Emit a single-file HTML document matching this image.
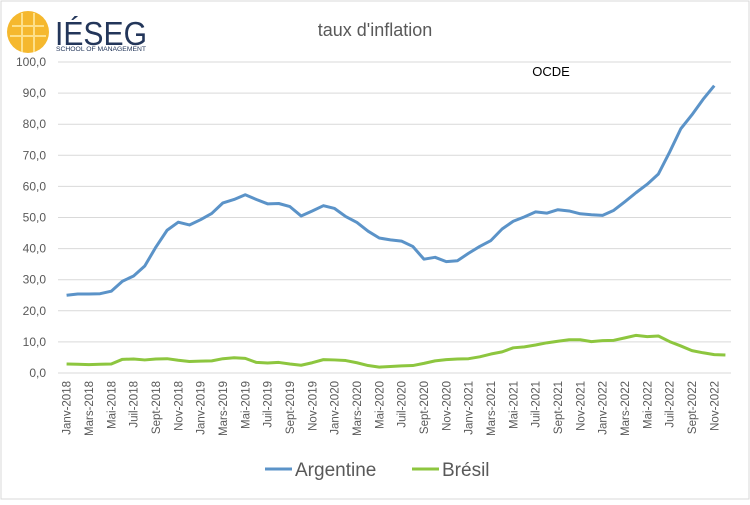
<!DOCTYPE html>
<html><head><meta charset="utf-8"><style>
body{margin:0;width:750px;height:500px;background:#fff;overflow:hidden;font-family:"Liberation Sans",sans-serif}
</style></head><body>
<svg id="chart" width="750" height="500" xmlns="http://www.w3.org/2000/svg">
<rect x="1" y="1" width="748" height="498" fill="#fff" stroke="#d9d9d9"/>
<g>
<circle cx="28" cy="32" r="21" fill="#f5b82e"/>
<path d="M12 26 H44 M10 36 H46 M22 13 V52 M34 13 V52" stroke="#fde08a" stroke-width="2" fill="none"/>
<text x="55" y="45" font-size="33" fill="#23365a" font-family="Liberation Sans,sans-serif" textLength="92" lengthAdjust="spacingAndGlyphs">IÉSEG</text>
<text x="56" y="51" font-size="6" fill="#23365a" textLength="90" lengthAdjust="spacingAndGlyphs">SCHOOL OF MANAGEMENT</text>
</g>
<text x="375" y="36" text-anchor="middle" font-size="18" fill="#595959">taux d'inflation</text>
<text x="551" y="76" text-anchor="middle" font-size="13" fill="#000">OCDE</text>
<g id="grid"></g><g id="ylab"></g><g id="xlab"></g><g id="series"></g>
<g>
<line x1="265" y1="469" x2="292" y2="469" stroke="#5b93c8" stroke-width="3"/>
<text x="295" y="476" font-size="19" fill="#595959">Argentine</text>
<line x1="412" y1="469" x2="439" y2="469" stroke="#8dc63f" stroke-width="3"/>
<text x="442" y="476" font-size="19" fill="#595959">Brésil</text>
</g>
</svg>
<script>
const months=["Janv","Févr","Mars","Avr","Mai","Juin","Juil","Août","Sept","Oct","Nov","Déc"];
const years=[2018,2019,2020,2021,2022];
const yTicks=[0,10,20,30,40,50,60,70,80,90,100];
const argentine=[25.0,25.4,25.4,25.5,26.3,29.5,31.2,34.4,40.5,45.9,48.5,47.6,49.3,51.3,54.7,55.8,57.3,55.8,54.4,54.5,53.5,50.5,52.1,53.8,52.9,50.3,48.4,45.6,43.4,42.8,42.4,40.7,36.6,37.2,35.8,36.1,38.5,40.7,42.6,46.3,48.8,50.2,51.8,51.4,52.5,52.1,51.2,50.9,50.7,52.3,55.1,58.0,60.7,64.0,71.0,78.5,83.0,88.0,92.4];
const bresil=[2.9,2.8,2.7,2.8,2.9,4.4,4.5,4.2,4.5,4.6,4.1,3.7,3.8,3.9,4.6,4.9,4.7,3.4,3.2,3.4,2.9,2.5,3.3,4.3,4.2,4.0,3.3,2.4,1.9,2.1,2.3,2.4,3.1,3.9,4.3,4.5,4.6,5.2,6.1,6.8,8.1,8.4,9.0,9.7,10.2,10.7,10.7,10.1,10.4,10.5,11.3,12.1,11.7,11.9,10.1,8.7,7.2,6.5,5.9,5.8];
const categories=[];years.forEach(y=>months.forEach(m=>categories.push(m+"-"+y)));
const NS="http://www.w3.org/2000/svg";
const L=61,R=731,T=62,B=373;
const step=(R-L)/categories.length;
const xs=i=>L+step*(i+0.5);
const ys=v=>B-(v/100)*(B-T);
function mk(tag,attrs,parent,txt){const e=document.createElementNS(NS,tag);for(const k in attrs)e.setAttribute(k,attrs[k]);if(txt!==undefined)e.textContent=txt;document.getElementById(parent).appendChild(e);return e;}
yTicks.forEach(v=>{
 const g=mk("line",{x1:L-3,x2:R,y1:ys(v),y2:ys(v),stroke:"#d9d9d9","stroke-width":1},"grid");
 
 
 const t=mk("text",{x:46,y:ys(v)+4,"text-anchor":"end","font-size":12,fill:"#595959"},"ylab",v.toFixed(1).replace(".",","));
 
 
});
categories.forEach((c,i)=>{
 if(i%2)return;
 const x=xs(i)+4,y=381;
 const t=mk("text",{x:x,y:y,"text-anchor":"end","font-size":11.5,fill:"#595959",transform:`rotate(-90 ${x} ${y})`},"xlab",c);
 
 
});
function line(data,color,name){
 const p=mk("polyline",{points:data.map((v,i)=>xs(i)+","+ys(v)).join(" "),fill:"none",stroke:color,"stroke-width":3,"stroke-linejoin":"round"},"series");
 
 
}
line(argentine,"#5b93c8","argentine-line");
line(bresil,"#8dc63f","bresil-line");
</script>
</body></html>
